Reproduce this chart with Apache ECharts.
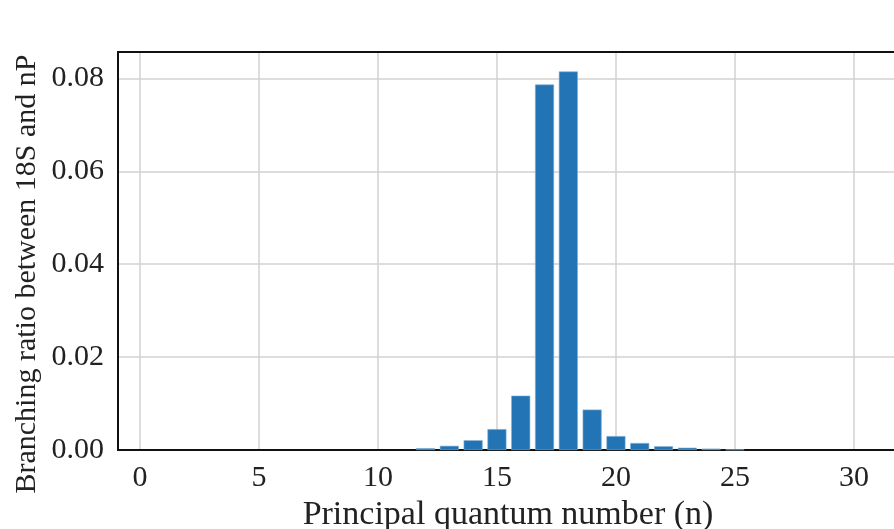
<!DOCTYPE html>
<html>
<head>
<meta charset="utf-8">
<script src="https://cdn.jsdelivr.net/npm/echarts@6/dist/echarts.min.js"></script>
<style>
    html, body { margin: 0; padding: 0; background: #fff; }
    #chart { width: 894px; height: 529px; }
</style>
</head>
<body>
<div id="chart"></div>
<script>
// principal quantum number n and branching ratio 18S -> nP
const levels = [12, 13, 14, 15, 16, 17, 18, 19, 20, 21, 22, 23, 24, 25];
const ratios = [0.0004, 0.0009, 0.0021, 0.0045, 0.0117, 0.0787, 0.0815, 0.0087, 0.0030, 0.0015, 0.0008, 0.0005, 0.0003, 0.0001];
const xTicks = [0, 5, 10, 15, 20, 25, 30];

const serif = '"Liberation Serif", "DejaVu Serif", serif';
const spine = { color: '#111', width: 2 };
const gridLine = { show: true, lineStyle: { color: '#d4d0d0', width: 1.5 } };

const chart = echarts.init(document.getElementById('chart'));

chart.setOption({
    animation: false,
    backgroundColor: '#fff',
    grid: {
        left: 118, top: 52, right: -4, bottom: 79,
        outerBoundsMode: 'none',
        containLabel: false,
        show: false
    },
    xAxis: [{
        type: 'value',
        min: -0.92,
        max: 31.85,
        name: 'Principal quantum number (n)',
        nameLocation: 'middle',
        nameGap: 43,
        nameTextStyle: { fontFamily: serif, fontSize: 34, color: '#222' },
        axisLine: { show: true, onZero: false, lineStyle: spine },
        axisTick: { show: false, customValues: xTicks },
        axisLabel: {
            customValues: xTicks,
            margin: 13,
            fontFamily: serif, fontSize: 30, color: '#222'
        },
        splitLine: gridLine
    }, {
        // top spine only
        type: 'value',
        position: 'top',
        min: -0.92,
        max: 31.85,
        axisLine: { show: true, onZero: false, lineStyle: spine },
        axisTick: { show: false },
        axisLabel: { show: false },
        splitLine: { show: false }
    }],
    yAxis: {
        type: 'value',
        min: 0,
        max: 0.0857,
        interval: 0.02,
        axisLine: { show: true, onZero: false, lineStyle: spine },
        axisTick: { show: false },
        axisLabel: {
            margin: 14,
            fontFamily: serif, fontSize: 30, color: '#222',
            formatter: v => v.toFixed(2)
        },
        splitLine: gridLine
    },
    graphic: [{
        type: 'text',
        x: 27,
        y: 274,
        rotation: Math.PI / 2,
        style: {
            text: 'Branching ratio between 18S and nP',
            fontFamily: serif,
            fontSize: 30,
            fill: '#222',
            align: 'center',
            verticalAlign: 'middle'
        }
    }],
    series: [{
        type: 'bar',
        xAxisIndex: 0,
        data: levels.map((n, i) => [n, ratios[i]]),
        barWidth: 19,
        itemStyle: { color: '#2274b5', borderColor: '#7fb0d8', borderWidth: 0.6 }
    }]
});
</script>
</body>
</html>
